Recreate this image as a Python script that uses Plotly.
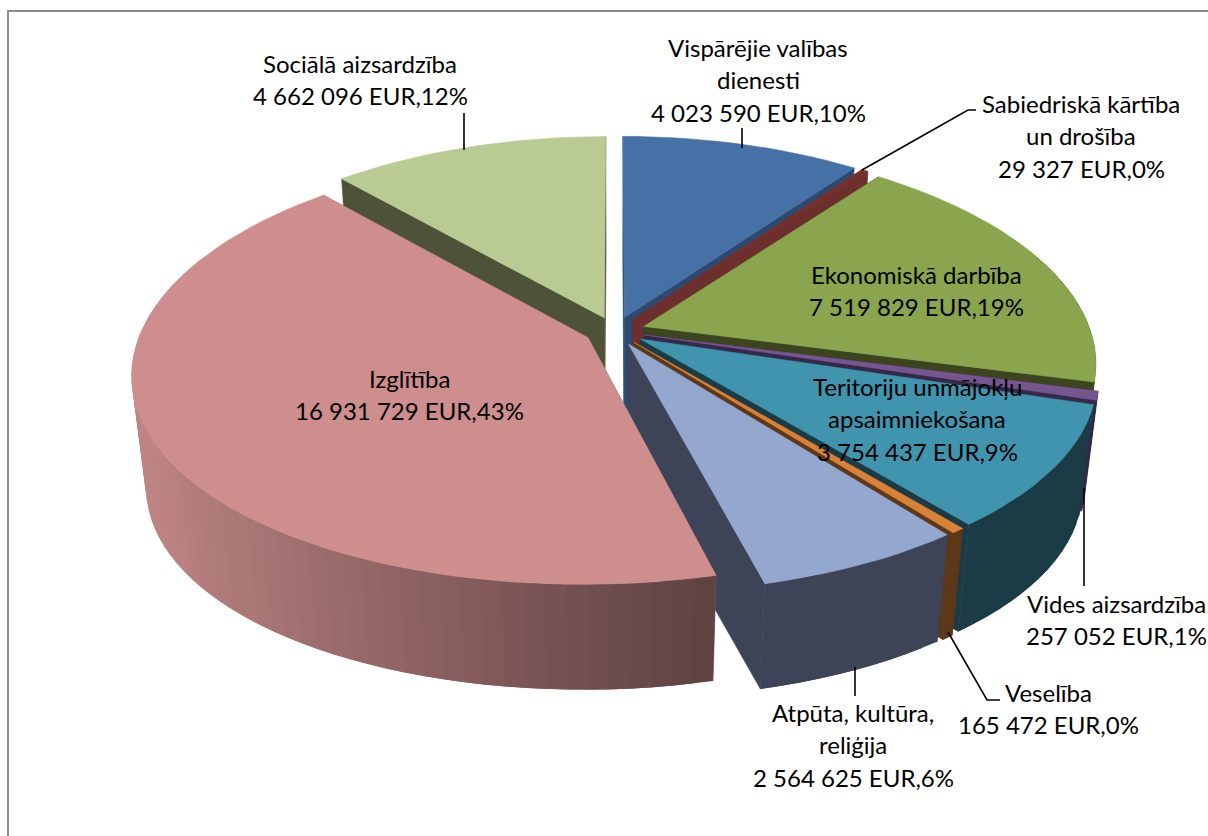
import math
import plotly.graph_objects as go

# ---- data ----
categories = ["Vispārējie valības dienesti", "Sabiedriskā kārtība un drošība", "Ekonomiskā darbība",
              "Vides aizsardzība", "Teritoriju unmājokļu apsaimniekošana", "Veselība",
              "Atpūta, kultūra, reliģija", "Izglītība", "Sociālā aizsardzība"]
value_text = ["4 023 590 EUR,10%", "29 327 EUR,0%", "7 519 829 EUR,19%", "257 052 EUR,1%",
              "3 754 437 EUR,9%", "165 472 EUR,0%", "2 564 625 EUR,6%", "16 931 729 EUR,43%",
              "4 662 096 EUR,12%"]
# sizes of the slices as drawn in the picture (EUR)
slice_sizes = [4023590, 110000, 7519829, 257052, 3754437, 165472, 2564625, 16931729, 4662096]
top_colors = ["#4571a6", "#79302d", "#8aa54d", "#76568f", "#4094ad", "#d98237", "#93a7cf", "#ce8e8d", "#b9ca93"]
wall_colors = ["#2c4a70", "#6c2f2d", "#3c4420", "#352848", "#1b3c47", "#5c3818", "#3d4458", "#8a6060", "#4d5238"]
draw_order = [8, 0, 1, 2, 3, 4, 5, 6, 7]

# ---- projection of the 3D pie ----
CX, CY = 615, 331
RX, RY = 447, 210
PERSP_X, PERSP_Y = 0.165, 0.14
EXPLODE = 0.068
WALL_H = 113
WALL_SCALE = 0.97
FONT = "Lato"
FS = 24
LINE_H = 32.5


def project(u, v, low=False):
    x = RX * u / (1 + PERSP_X * v)
    y = -RY * v / (1 + PERSP_Y * v)
    if low:
        return CX + x * WALL_SCALE, CY + y * WALL_SCALE + WALL_H
    return CX + x, CY + y


def mix(c, f):
    r, g, b = int(c[1:3], 16), int(c[3:5], 16), int(c[5:7], 16)
    return "rgb(%d,%d,%d)" % (min(255, r * f), min(255, g * f), min(255, b * f))


fig = go.Figure()


def poly(pts, color, width=0.6):
    fig.add_trace(go.Scatter(x=[p[0] for p in pts] + [pts[0][0]], y=[p[1] for p in pts] + [pts[0][1]],
                             mode="lines", fill="toself", fillcolor=color,
                             line=dict(color=color, width=width), hoverinfo="skip", showlegend=False))


total = sum(slice_sizes)
starts = [sum(slice_sizes[:i]) for i in range(len(slice_sizes))]
for i in draw_order:
    t0 = 2 * math.pi * starts[i] / total
    t1 = 2 * math.pi * (starts[i] + slice_sizes[i]) / total
    tm = (t0 + t1) / 2
    ax, ay = EXPLODE * math.sin(tm), EXPLODE * math.cos(tm)
    n = max(3, int((t1 - t0) / 0.04))
    rim = []
    for k in range(n + 1):
        t = t0 + (t1 - t0) * k / n
        rim.append((ax + math.sin(t), ay + math.cos(t), t))
    wall = wall_colors[i]
    # radial walls
    for (u, v, _) in (rim[0], rim[-1]):
        poly([project(ax, ay), project(u, v), project(u, v, True), project(ax, ay, True)], wall)
    # outer wall, shaded by direction; each piece overlaps the next one so no seams show
    for k in range(n):
        a, b = rim[k], rim[min(k + 2, n)]
        if math.cos((a[2] + b[2]) / 2) > 0.35:
            continue
        if categories[i] == "Izglītība":
            f = 0.66 + 0.72 * max(0.0, min(1.0, (-(a[0]) + 0.25) / 1.2))
            color = mix(wall, f)
        else:
            color = wall
        poly([project(a[0], a[1]), project(b[0], b[1]), project(b[0], b[1], True), project(a[0], a[1], True)], color, 0)
    # top face
    poly([project(ax, ay)] + [project(p[0], p[1]) for p in rim], top_colors[i])

# leader lines
leaders_x = [[464, 464], [742, 742], [862, 968, 976], [855, 855], [948, 987, 1000], [1084, 1084]]
leaders_y = [[113, 150], [128, 148], [170, 110, 110], [667, 696], [632, 700, 700], [488, 586]]
for lx, ly in zip(leaders_x, leaders_y):
    fig.add_trace(go.Scatter(x=lx, y=ly, mode="lines", line=dict(color="black", width=1.6),
                             hoverinfo="skip", showlegend=False))

# label lines: centre x, first line y, and the lines of text
label_lines = [
    (758, 47, ["Vispārējie valības", "dienesti", value_text[0]]),
    (1081, 103, ["Sabiedriskā kārtība", "un drošība", value_text[1]]),
    (916, 274, ["Ekonomiskā darbība", value_text[2]]),
    (1116, 603, ["Vides aizsardzība", value_text[3]]),
    (917, 386, ["Teritoriju unmājokļu", "apsaimniekošana", value_text[4]]),
    (1048, 692, ["Veselība", value_text[5]]),
    (853, 712, ["Atpūta, kultūra,", "reliģija", value_text[6]]),
    (409, 378, ["Izglītība", value_text[7]]),
    (360, 63, ["Sociālā aizsardzība", value_text[8]]),
]
for cx, y0, lines in label_lines:
    for j, text in enumerate(lines):
        fig.add_annotation(x=cx, y=y0 + j * LINE_H, text=text, showarrow=False, xanchor="center", yanchor="middle",
                           font=dict(family=FONT, size=FS, color="black"))

fig.add_shape(type="rect", x0=8, y0=11, x1=1400, y1=1000, line=dict(color="#8c8c8c", width=2), layer="below")

fig.update_layout(width=1208, height=836, margin=dict(l=0, r=0, t=0, b=0), paper_bgcolor="white", plot_bgcolor="white",
                  xaxis=dict(range=[0, 1208], visible=False, fixedrange=True),
                  yaxis=dict(range=[836, 0], visible=False, fixedrange=True))
fig.write_html("out.html", config={"displayModeBar": False}, post_script="document.body.style.margin='0';")
